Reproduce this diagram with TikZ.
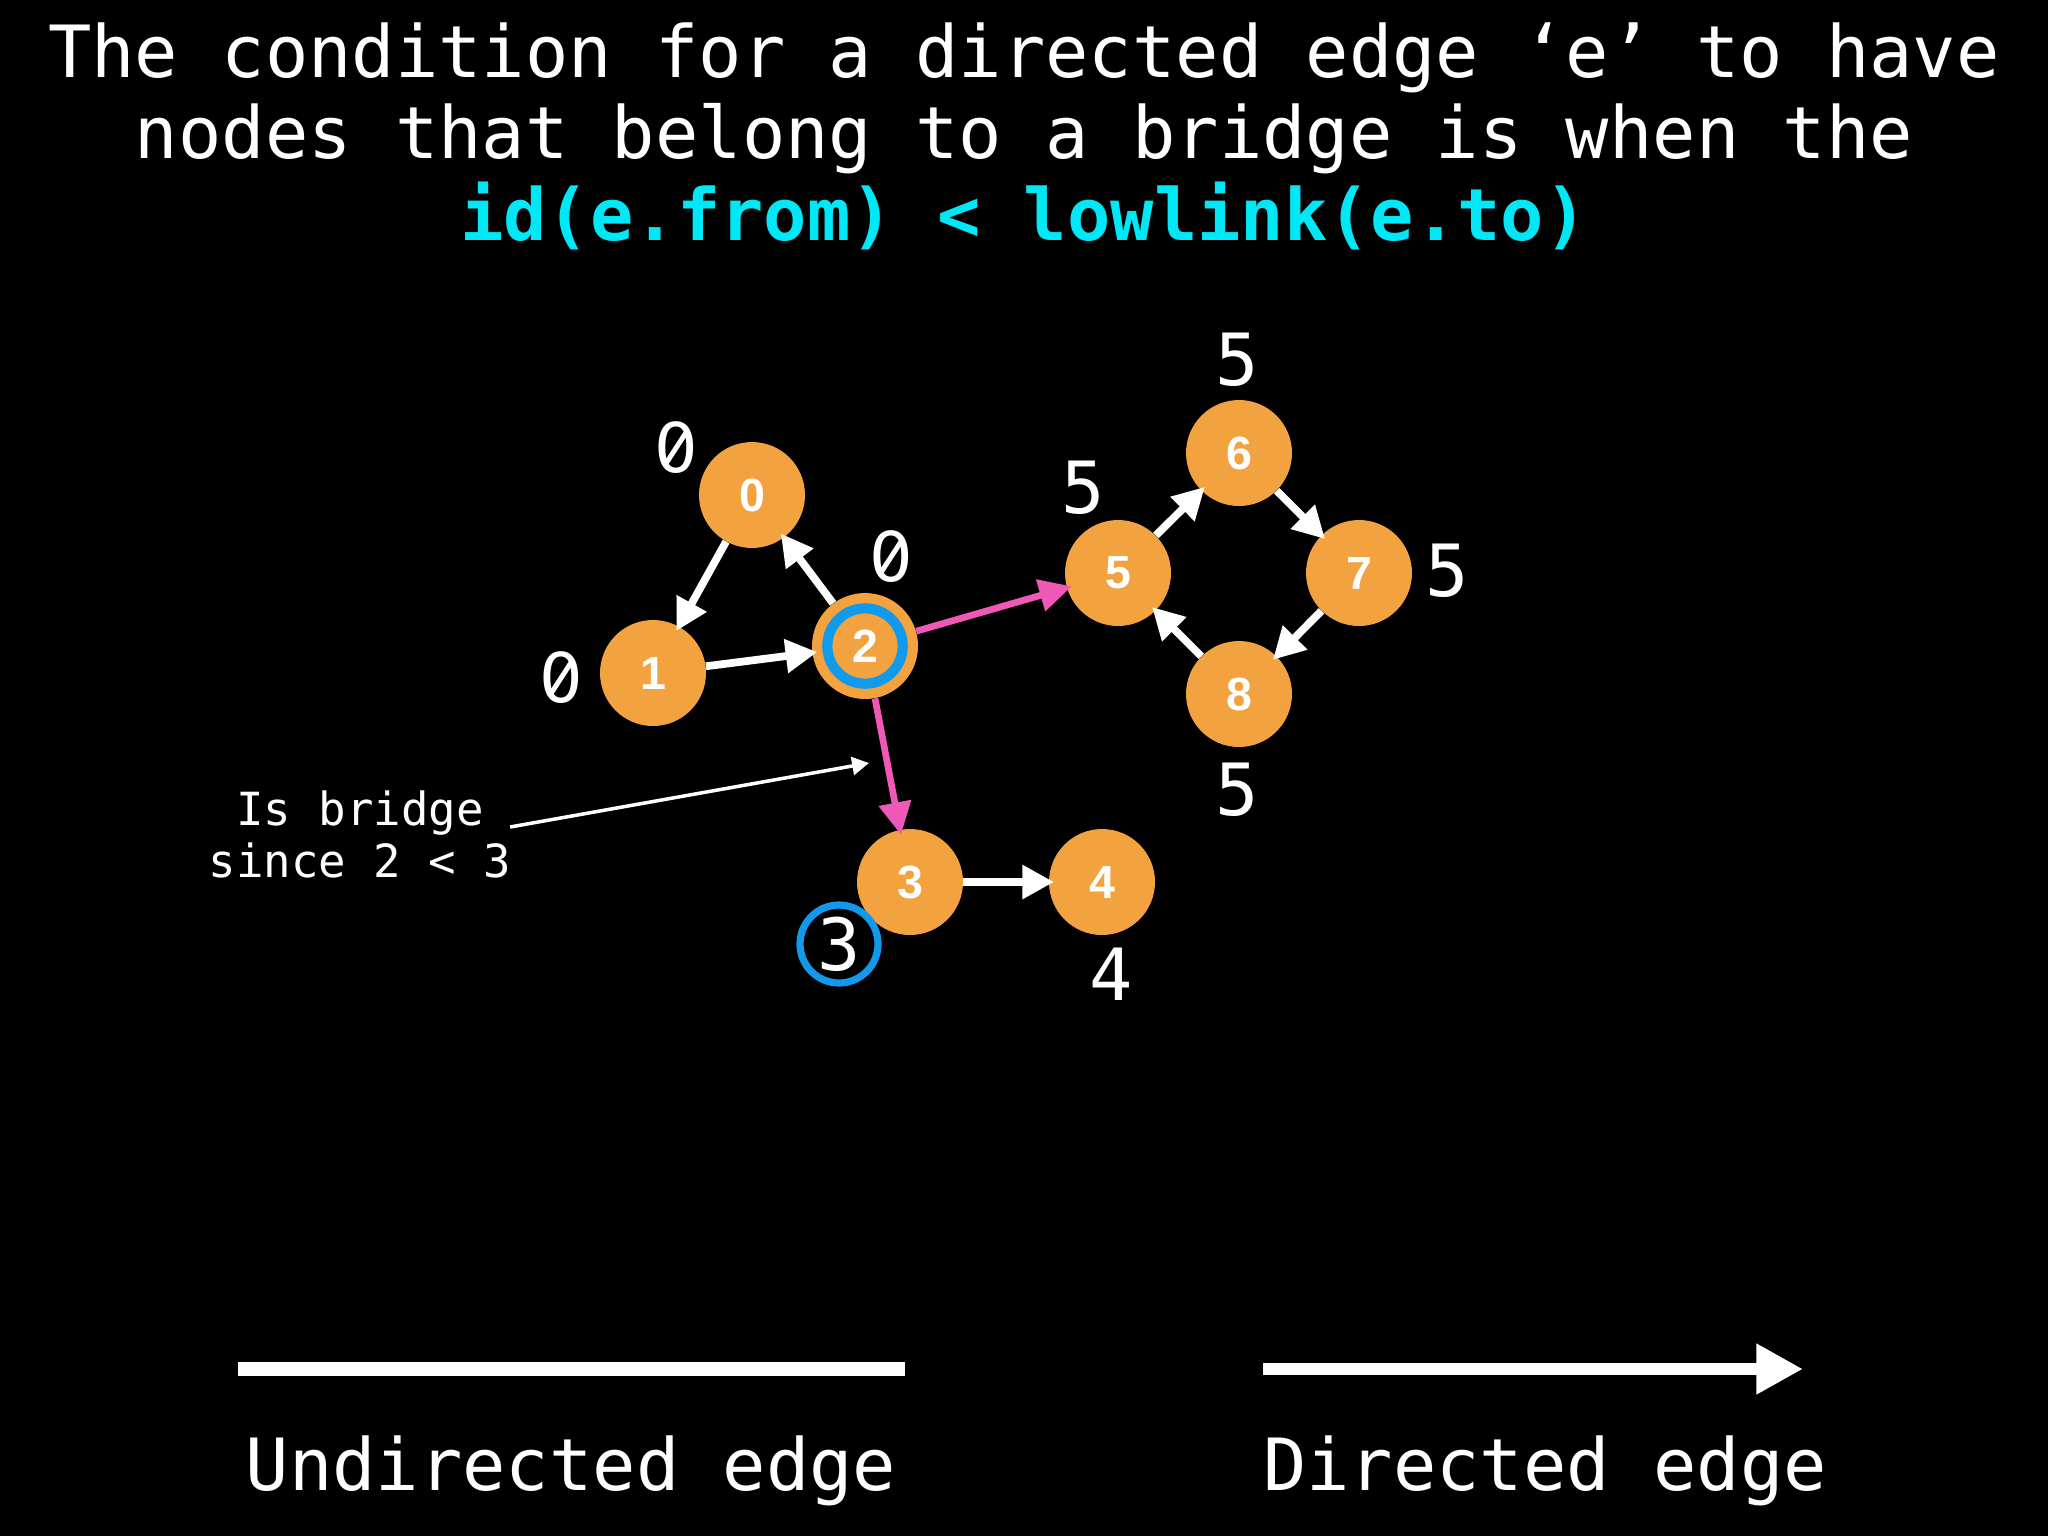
\documentclass[tikz,border=0pt]{standalone}
\usepackage{fontspec}
\setmonofont{DejaVu Sans Mono}
\newfontfamily\nodefont{Liberation Sans}
\newfontfamily\zerofont{DejaVu Sans}
\usetikzlibrary{arrows.meta}
\definecolor{nodeorange}{RGB}{242,163,64}
\definecolor{edgepink}{RGB}{238,88,182}
\definecolor{ringblue}{RGB}{17,153,236}
\definecolor{titlecyan}{RGB}{0,232,245}
\tikzset{
  vertex/.style={circle, fill=nodeorange, minimum size=2.12cm, inner sep=0pt,
    text=white, font=\nodefont\bfseries\fontsize{26.5}{26.5}\selectfont},
  lowlbl/.style={text=white, font=\ttfamily\fontsize{41}{41}\selectfont, inner sep=0pt},
  slashzero/.style={lowlbl, font=\zerofont\fontsize{39}{39}\selectfont,
    path picture={\draw[white, line width=2.8pt]
      ([shift={(-11,17)}]path picture bounding box.center) --
      ([shift={(11,-17)}]path picture bounding box.center);}},
  titletext/.style={text=white, font=\ttfamily\fontsize{41}{47}\selectfont, inner sep=0pt, anchor=base},
  notetext/.style={text=white, font=\ttfamily\fontsize{26}{30}\selectfont, inner sep=0pt, anchor=base},
  wedge/.style={draw=white, line width=4.4pt, -{Triangle[length=18pt,width=18.5pt]}, shorten >=-3pt},
  pedge/.style={draw=edgepink, line width=3.8pt, -{Triangle[length=18.5pt,width=18pt]}, shorten >=-3pt},
  notearrow/.style={draw=white, line width=2pt, -{Triangle[length=9.6pt,width=10.2pt]}},
  bluering/.style={draw=ringblue, line width=5.8pt},
}
\begin{document}
\begin{tikzpicture}[x=0.02cm,y=-0.02cm]
\fill[black] (0,0) rectangle (2048,1536);
\useasboundingbox (0,0) rectangle (2048,1536);

% title
\node[titletext] (t1) at (1024,77) {The condition for a directed edge ‘e’ to have};
\node[titletext] (t2) at (1024,158) {nodes that belong to a bridge is when the};
\node[titletext, text=titlecyan, font=\ttfamily\bfseries\fontsize{41}{47}\selectfont] (t3) at (1024,240) {id(e.from) < lowlink(e.to)};

% vertices
\node[vertex] (n0) at (752,495) {0};
\node[vertex] (n1) at (653,673) {1};
\node[vertex] (n2) at (865,646) {2};
\node[vertex] (n3) at (910,882) {3};
\node[vertex] (n4) at (1102,882) {4};
\node[vertex] (n5) at (1118,573) {5};
\node[vertex] (n6) at (1239,453) {6};
\node[vertex] (n7) at (1359,573) {7};
\node[vertex] (n8) at (1239,694) {8};

% ring on node 2
\draw[bluering] (n2.center) circle[radius=0.754cm];

% lowlink labels
\node[slashzero] (l0) at (676,448) {0};
\node[slashzero] (l1) at (561,678) {0};
\node[slashzero] (l2) at (891,557) {0};
\node[lowlbl] (l5) at (1083,488) {5};
\node[lowlbl] (l6) at (1237,360) {5};
\node[lowlbl] (l7) at (1447,571) {5};
\node[lowlbl] (l8) at (1237,790) {5};
\node[lowlbl] (l4) at (1111,974) {4};
\node[lowlbl, draw=ringblue, line width=4.1pt, circle, minimum size=1.56cm] (l3) at (839,944) {3};

% edges
\draw[wedge] (n0) -- (n1);
\draw[wedge] (n1) -- (n2);
\draw[wedge] (n2) -- (n0);
\draw[wedge] (n3) -- (n4);
\draw[wedge] (n5) -- (n6);
\draw[wedge] (n6) -- (n7);
\draw[wedge] (n7) -- (n8);
\draw[wedge] (n8) -- (n5);
\draw[pedge] (n2) -- (n5);
\draw[pedge] (n2) -- (n3);

% annotation
\node[notetext] (isb) at (360,825) {Is bridge};
\node[notetext] (since) at (360,877) {since 2 < 3};
\coordinate (notetip) at (869,763);
\draw[notearrow] ([shift={(26,2)}]isb.base east) -- (notetip);

% legend
\coordinate (ua) at (238,1369);
\coordinate (ub) at (905,1369);
\draw[white, line width=7.8pt] (ua) -- (ub);
\coordinate (da) at (1263,1369);
\coordinate (db) at (1803,1369);
\draw[white, line width=6.6pt, -{Triangle[length=26.6pt,width=27.2pt]}] (da) -- (db);
\node[titletext] (lu) at (571,1490) {Undirected edge};
\node[titletext] (ld) at (1545,1490) {Directed edge};
\end{tikzpicture}
\end{document}
